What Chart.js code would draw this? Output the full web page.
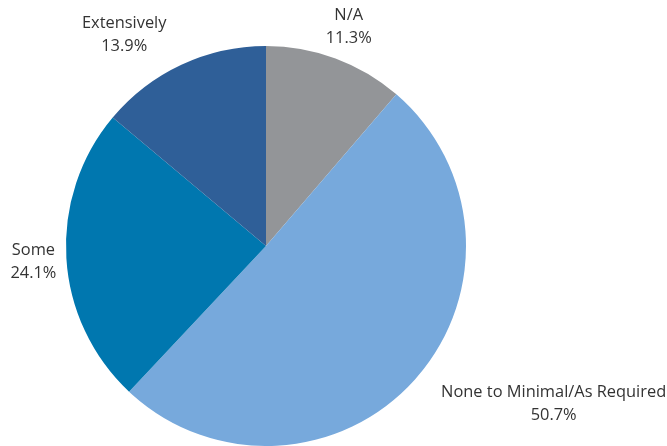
<!DOCTYPE html>
<html>
<head>
<meta charset="utf-8">
<script src="https://cdn.jsdelivr.net/npm/chart.js@4.4.1/dist/chart.umd.min.js"></script>
<style>
  body { margin: 0; background: #fff; }
  #wrap { width: 667px; height: 446px; }
</style>
</head>
<body>
<div id="wrap"><canvas id="grafico" width="667" height="446"></canvas></div>
<script>
// dados do gráfico
const categorias = ["N/A", "None to Minimal/As Required", "Some", "Extensively"];
const valores = [11.3, 50.7, 24.1, 13.9];
const cores = ["#939598", "#77A9DC", "#0077AF", "#2F5F98"];

const fonteRotulo = "16.4px 'Open Sans', sans-serif";
const alturaLinha = 23;
// pequenos ajustes de posição dos rótulos (como o Excel os coloca)
const ajusteRotulo = [[0, 4], [44, -1], [5, 2], [-33, 4]];

// rótulos externos (nome + percentual)
const rotulosExternos = {
    id: "rotulosExternos",
    afterDatasetsDraw(chart) {
        const ctx = chart.ctx;
        const meta = chart.getDatasetMeta(0);
        ctx.save();
        ctx.font = fonteRotulo;
        ctx.fillStyle = "#333333";
        ctx.textAlign = "center";
        ctx.textBaseline = "middle";
        meta.data.forEach((arco, i) => {
            const ang = (arco.startAngle + arco.endAngle) / 2;
            const r = arco.outerRadius + 15;
            const px = arco.x + Math.cos(ang) * r;
            const py = arco.y + Math.sin(ang) * r;
            const linhas = [categorias[i], valores[i].toFixed(1) + "%"];
            const w = Math.max(...linhas.map(t => ctx.measureText(t).width));
            const h = linhas.length * alturaLinha;
            const cx = px + Math.cos(ang) * w / 2 + ajusteRotulo[i][0];
            const cy = py + Math.sin(ang) * h / 2 + ajusteRotulo[i][1];
            linhas.forEach((t, k) => {
                ctx.fillText(t, cx, cy - h / 2 + alturaLinha * (k + 0.5));
            });
        });
        ctx.restore();
    }
};

const ctx = document.getElementById("grafico").getContext("2d");
new Chart(ctx, {
    type: "pie",
    data: {
        labels: categorias,
        datasets: [{
            data: valores,
            backgroundColor: cores,
            borderWidth: 0
        }]
    },
    options: {
        responsive: false,
        animation: false,
        layout: { padding: { left: 66, right: 201, top: 46, bottom: 0 } },
        plugins: {
            legend: { display: false },
            tooltip: { enabled: false }
        }
    },
    plugins: [rotulosExternos]
});
</script>
</body>
</html>
